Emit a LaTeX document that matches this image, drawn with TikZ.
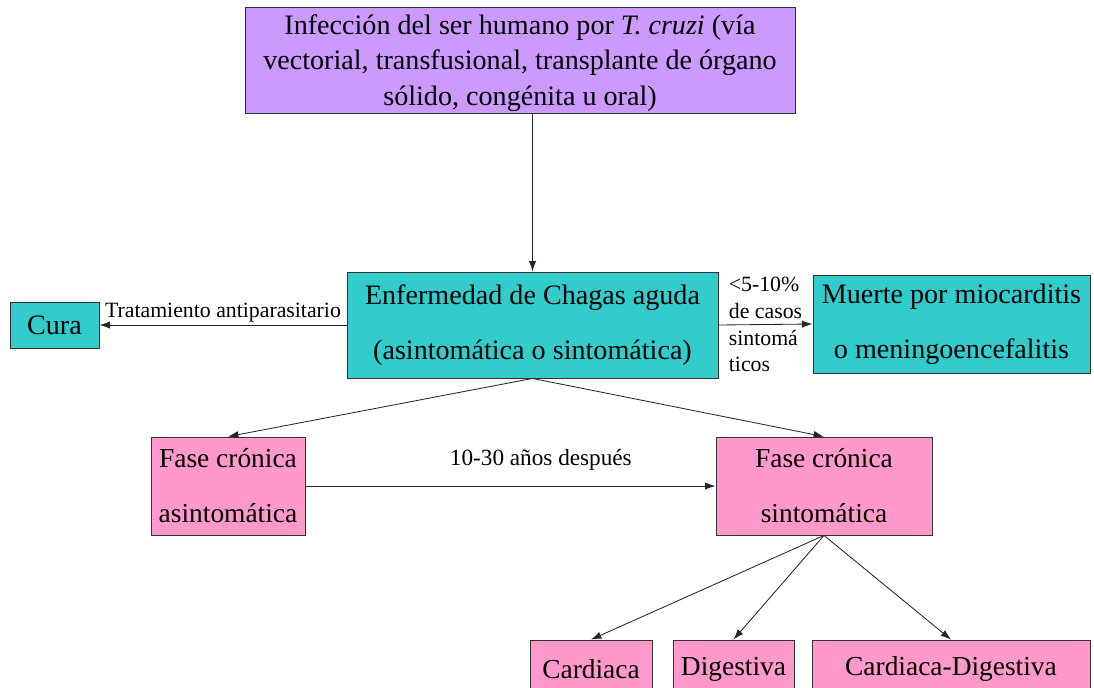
\documentclass[tikz,border=0pt]{standalone}
\usepackage{fontspec}
\setmainfont{Liberation Serif}
\usepackage{tikz}
\usetikzlibrary{arrows.meta, positioning, calc}
\definecolor{lila}{HTML}{CC99FF}
\definecolor{turquesa}{HTML}{33CCCC}
\definecolor{rosa}{HTML}{FF99CC}
\tikzstyle{flecha} = [->, >={Latex[length=2.6mm,width=1.8mm]}, draw=black!85, line width=0.6pt]

\begin{document}
\begin{tikzpicture}[x=0.025cm, y=-0.025cm,
    lilabox/.style={rectangle, draw=black!80, fill=lila, line width=0.6pt, align=center, inner sep=0pt, font=\fontsize{20}{25.5}\selectfont},
    turqbox/.style={rectangle, draw=black!80, fill=turquesa, line width=0.6pt, align=center, inner sep=0pt, font=\fontsize{20}{39}\selectfont},
    rosabox/.style={rectangle, draw=black!80, fill=rosa, line width=0.6pt, align=center, inner sep=0pt, font=\fontsize{19.5}{39}\selectfont},
    etiqueta/.style={font=\fontsize{15.5}{19}\selectfont, inner sep=1pt},
]
\useasboundingbox (0,0) rectangle (1094,687);

% Infeccion
\node[lilabox, minimum width=13.75cm, minimum height=2.65cm, text depth=0pt] (infeccion) at (520, 60)
    {\raisebox{0pt}[0pt][0pt]{}Infección del ser humano por \textit{T. cruzi} (vía\\vectorial, transfusional, transplante de órgano\\sólido, congénita u oral)};

% Fase aguda y desenlaces
\node[turqbox, minimum width=9.275cm, minimum height=2.65cm] (aguda) at (532.5, 325)
    {Enfermedad de Chagas aguda\\(asintomática o sintomática)};
\node[turqbox, minimum width=2.225cm, minimum height=1.15cm] (cura) at (54.5, 325) {Cura};
\node[turqbox, minimum width=6.925cm, minimum height=2.45cm] (muerte) at (951.5, 324)
    {Muerte por miocarditis\\o meningoencefalitis};

% Fases cronicas
\node[rosabox, minimum width=3.85cm, minimum height=2.45cm] (asint) at (228, 486)
    {Fase crónica\\asintomática};
\node[rosabox, minimum width=5.4cm, minimum height=2.45cm] (sint) at (824, 486)
    {Fase crónica\\sintomática};

% Formas clinicas
\node[rosabox, minimum width=3.05cm, minimum height=1.45cm] (cardiaca) at (591, 669) {Cardiaca};
\node[rosabox, minimum width=3.025cm, minimum height=1.45cm] (digestiva) at (733.5, 669) {Digestiva};
\node[rosabox, minimum width=6.95cm, minimum height=1.45cm] (mixta) at (951, 669) {Cardiaca-Digestiva};

% Flechas
\draw[flecha] (aguda.north |- infeccion.south) -- (aguda.north);
\draw[flecha] (aguda.west) -- node[etiqueta, above=1pt] {Tratamiento antiparasitario} (cura.east);
\draw[flecha] (aguda.east) -- node[etiqueta, align=left] {<5-10\%\\de casos\\sintomá\\ticos} (muerte.west);
\draw[flecha] (aguda.south) -- (asint.north);
\draw[flecha] (aguda.south) -- (sint.north);
\draw[flecha] (asint.east) -- node[etiqueta, pos=0.574, above=10pt, font=\fontsize{16.5}{19}\selectfont] {10-30 años después} (sint.west);
\draw[flecha] (sint.south) -- (cardiaca.north);
\draw[flecha] (sint.south) -- (digestiva.north);
\draw[flecha] (sint.south) -- (mixta.north);

\end{tikzpicture}
\end{document}
